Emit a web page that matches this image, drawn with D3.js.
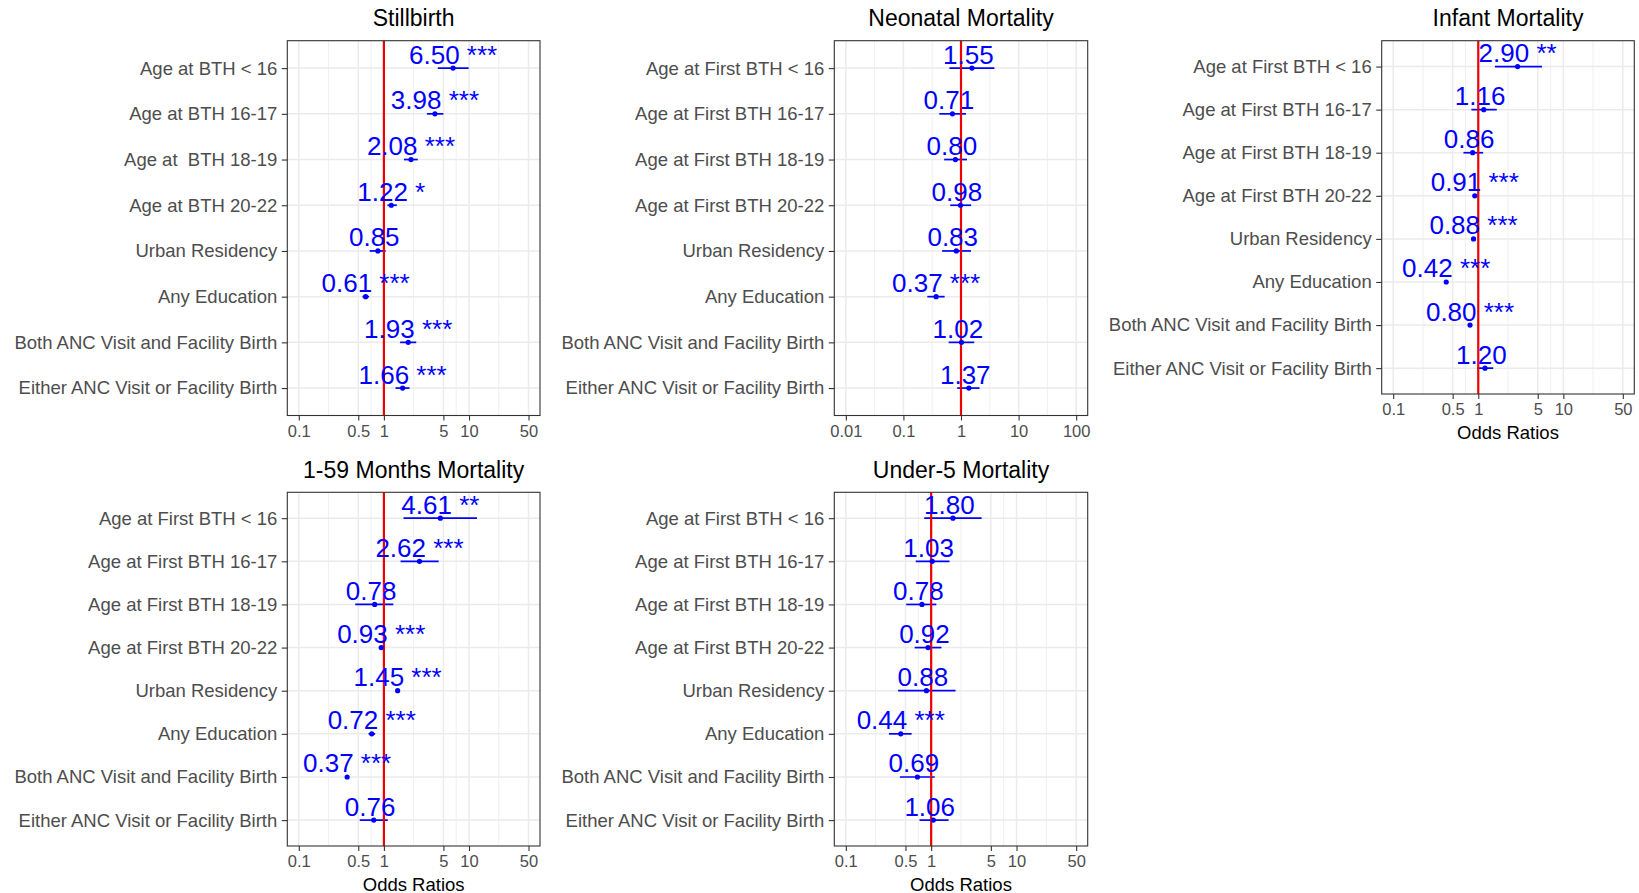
<!DOCTYPE html>
<html>
<head>
<meta charset="utf-8">
<script src="https://cdn.jsdelivr.net/npm/d3@7"></script>
<style>
  html, body { margin: 0; padding: 0; background: #fff; }
  svg { display: block; font-family: "Liberation Sans", Arial, sans-serif; }
</style>
</head>
<body>
<svg id="chart" width="1639" height="893"></svg>
<script>
// ---------------- DATA ----------------
const categoriesStillbirth = [
  "Age at BTH < 16", "Age at BTH 16-17", "Age at  BTH 18-19", "Age at BTH 20-22",
  "Urban Residency", "Any Education", "Both ANC Visit and Facility Birth", "Either ANC Visit or Facility Birth"
];
const categoriesFirst = [
  "Age at First BTH < 16", "Age at First BTH 16-17", "Age at First BTH 18-19", "Age at First BTH 20-22",
  "Urban Residency", "Any Education", "Both ANC Visit and Facility Birth", "Either ANC Visit or Facility Birth"
];

const stillbirthOR  = [6.50, 3.98, 2.08, 1.22, 0.85, 0.61, 1.93, 1.66];
const stillbirthLo  = [4.3, 3.2, 1.72, 1.10, 0.68, 0.56, 1.55, 1.37];
const stillbirthHi  = [9.9, 5.0, 2.5, 1.42, 1.05, 0.67, 2.4, 2.0];
const stillbirthSig = ["***", "***", "***", "*", "", "***", "***", "***"];

const neonatalOR  = [1.55, 0.71, 0.80, 0.98, 0.83, 0.37, 1.02, 1.37];
const neonatalLo  = [0.63, 0.42, 0.51, 0.65, 0.47, 0.26, 0.61, 0.86];
const neonatalHi  = [3.8, 1.22, 1.27, 1.5, 1.49, 0.52, 1.7, 2.1];
const neonatalSig = ["", "", "", "", "", "***", "", ""];

const infantOR  = [2.90, 1.16, 0.86, 0.91, 0.88, 0.42, 0.80, 1.20];
const infantLo  = [1.57, 0.83, 0.67, 0.89, 0.86, 0.40, 0.78, 0.97];
const infantHi  = [5.6, 1.65, 1.14, 0.93, 0.90, 0.44, 0.82, 1.5];
const infantSig = ["**", "", "", "***", "***", "***", "***", ""];

const months159OR  = [4.61, 2.62, 0.78, 0.93, 1.45, 0.72, 0.37, 0.76];
const months159Lo  = [1.7, 1.57, 0.46, 0.91, 1.42, 0.66, 0.36, 0.52];
const months159Hi  = [12.4, 4.4, 1.29, 0.95, 1.48, 0.79, 0.38, 1.11];
const months159Sig = ["**", "***", "", "***", "***", "***", "***", ""];

const under5OR  = [1.80, 1.03, 0.78, 0.92, 0.88, 0.44, 0.69, 1.06];
const under5Lo  = [0.83, 0.66, 0.51, 0.64, 0.41, 0.32, 0.43, 0.73];
const under5Hi  = [3.9, 1.64, 1.15, 1.32, 1.93, 0.59, 1.1, 1.6];
const under5Sig = ["", "", "", "", "", "***", "", ""];

const ticksStandard = [0.1, 0.5, 1, 5, 10, 50];
const ticksNeonatal = [0.01, 0.1, 1, 10, 100];
const limitsStandard = [0.1, 50];
const limitsNeonatal = [0.01, 100];
const xAxisTitle = "Odds Ratios";

// ---------------- PANELS ----------------
const panels = [
  { title: "Stillbirth", cats: categoriesStillbirth, or: stillbirthOR, lo: stillbirthLo, hi: stillbirthHi, sig: stillbirthSig,
    ticks: ticksStandard, limits: limitsStandard, x0: 287.3, x1: 540, y0: 40.7, y1: 415.5, xTitle: false },
  { title: "Neonatal Mortality", cats: categoriesFirst, or: neonatalOR, lo: neonatalLo, hi: neonatalHi, sig: neonatalSig,
    ticks: ticksNeonatal, limits: limitsNeonatal, x0: 834.3, x1: 1087.7, y0: 40.7, y1: 415.5, xTitle: false },
  { title: "Infant Mortality", cats: categoriesFirst, or: infantOR, lo: infantLo, hi: infantHi, sig: infantSig,
    ticks: ticksStandard, limits: limitsStandard, x0: 1381.7, x1: 1634.3, y0: 40.7, y1: 394, xTitle: true },
  { title: "1-59 Months Mortality", cats: categoriesFirst, or: months159OR, lo: months159Lo, hi: months159Hi, sig: months159Sig,
    ticks: ticksStandard, limits: limitsStandard, x0: 287.3, x1: 540, y0: 492.3, y1: 846, xTitle: true },
  { title: "Under-5 Mortality", cats: categoriesFirst, or: under5OR, lo: under5Lo, hi: under5Hi, sig: under5Sig,
    ticks: ticksStandard, limits: limitsStandard, x0: 834.3, x1: 1087.7, y0: 492.3, y1: 846, xTitle: true }
];

const svg = d3.select("#chart");
const BLUE = "#0000ff";
const GRID = "#ebebeb";

panels.forEach(p => {
  // ggplot-like 5% expansion on log scale
  const l0 = Math.log10(p.limits[0]), l1 = Math.log10(p.limits[1]);
  const ex = (l1 - l0) * 0.05;
  const x = d3.scaleLog().domain([Math.pow(10, l0 - ex), Math.pow(10, l1 + ex)]).range([p.x0, p.x1]);
  const y = d3.scalePoint().domain(p.cats).range([p.y0, p.y1]).padding(0.6);

  const g = svg.append("g");

  // minor grid: midpoints between major breaks in log space (incl. beyond)
  const lt = p.ticks.map(Math.log10);
  const minors = [];
  for (let i = 0; i < lt.length - 1; i++) minors.push((lt[i] + lt[i + 1]) / 2);
  const dom = x.domain().map(Math.log10);
  const minorVis = minors.filter(m => m > dom[0] && m < dom[1]);

  g.selectAll(".minor").data(minorVis).join("line")
    .attr("x1", d => x(Math.pow(10, d))).attr("x2", d => x(Math.pow(10, d)))
    .attr("y1", p.y0).attr("y2", p.y1)
    .attr("stroke", GRID).attr("stroke-width", 0.8);

  g.selectAll(".majorx").data(p.ticks).join("line")
    .attr("x1", d => x(d)).attr("x2", d => x(d))
    .attr("y1", p.y0).attr("y2", p.y1)
    .attr("stroke", GRID).attr("stroke-width", 1.5);

  g.selectAll(".majory").data(p.cats).join("line")
    .attr("x1", p.x0).attr("x2", p.x1)
    .attr("y1", d => y(d)).attr("y2", d => y(d))
    .attr("stroke", GRID).attr("stroke-width", 1.5);

  const rows = p.cats.map((c, i) => ({ c, or: p.or[i], lo: p.lo[i], hi: p.hi[i], sig: p.sig[i] }));

  // error bars
  g.selectAll(".eb").data(rows).join("line")
    .attr("x1", d => x(d.lo)).attr("x2", d => x(d.hi))
    .attr("y1", d => y(d.c)).attr("y2", d => y(d.c))
    .attr("stroke", BLUE).attr("stroke-width", 1.7);

  // reference line at OR = 1
  g.append("line")
    .attr("x1", x(1)).attr("x2", x(1))
    .attr("y1", p.y0).attr("y2", p.y1)
    .attr("stroke", "#ee0000").attr("stroke-width", 2.2);

  // points
  g.selectAll(".pt").data(rows).join("circle")
    .attr("cx", d => x(d.or)).attr("cy", d => y(d.c)).attr("r", 2.6)
    .attr("fill", BLUE);

  // labels
  g.selectAll(".lab").data(rows).join("text")
    .attr("x", d => x(d.or)).attr("y", d => y(d.c) - 4.5)
    .attr("text-anchor", "middle")
    .style("white-space", "pre")
    .attr("font-size", 26).attr("fill", BLUE)
    .text(d => d.or.toFixed(2) + " " + d.sig);

  // panel border
  g.append("rect")
    .attr("x", p.x0).attr("y", p.y0)
    .attr("width", p.x1 - p.x0).attr("height", p.y1 - p.y0)
    .attr("fill", "none").attr("stroke", "#333333").attr("stroke-width", 1.1);

  // axes
  const fmt = d => String(d);
  const xa = g.append("g").attr("transform", `translate(0,${p.y1})`)
    .call(d3.axisBottom(x).tickValues(p.ticks).tickFormat(fmt).tickSize(5).tickPadding(4.5));
  xa.select(".domain").remove();
  xa.selectAll(".tick line").attr("stroke", "#333333").attr("stroke-width", 1.1);
  xa.selectAll(".tick text").attr("fill", "#4d4d4d").attr("font-size", 16.5)
    .attr("font-family", "Liberation Sans, Arial, sans-serif");

  const ya = g.append("g").attr("transform", `translate(${p.x0},0)`)
    .call(d3.axisLeft(y).tickSize(5.5).tickPadding(4.5));
  ya.select(".domain").remove();
  ya.selectAll(".tick line").attr("stroke", "#333333").attr("stroke-width", 1.1);
  ya.selectAll(".tick text").attr("fill", "#4d4d4d").attr("font-size", 18.5)
    .style("white-space", "pre")
    .attr("font-family", "Liberation Sans, Arial, sans-serif");

  // title
  g.append("text")
    .attr("x", (p.x0 + p.x1) / 2).attr("y", p.y0 - 14.5)
    .attr("text-anchor", "middle").attr("font-size", 23).attr("fill", "#000")
    .text(p.title);

  if (p.xTitle) {
    g.append("text")
      .attr("x", (p.x0 + p.x1) / 2).attr("y", p.y1 + 44.5)
      .attr("text-anchor", "middle").attr("font-size", 18.5).attr("fill", "#000")
      .text(xAxisTitle);
  }
});
</script>
</body>
</html>
